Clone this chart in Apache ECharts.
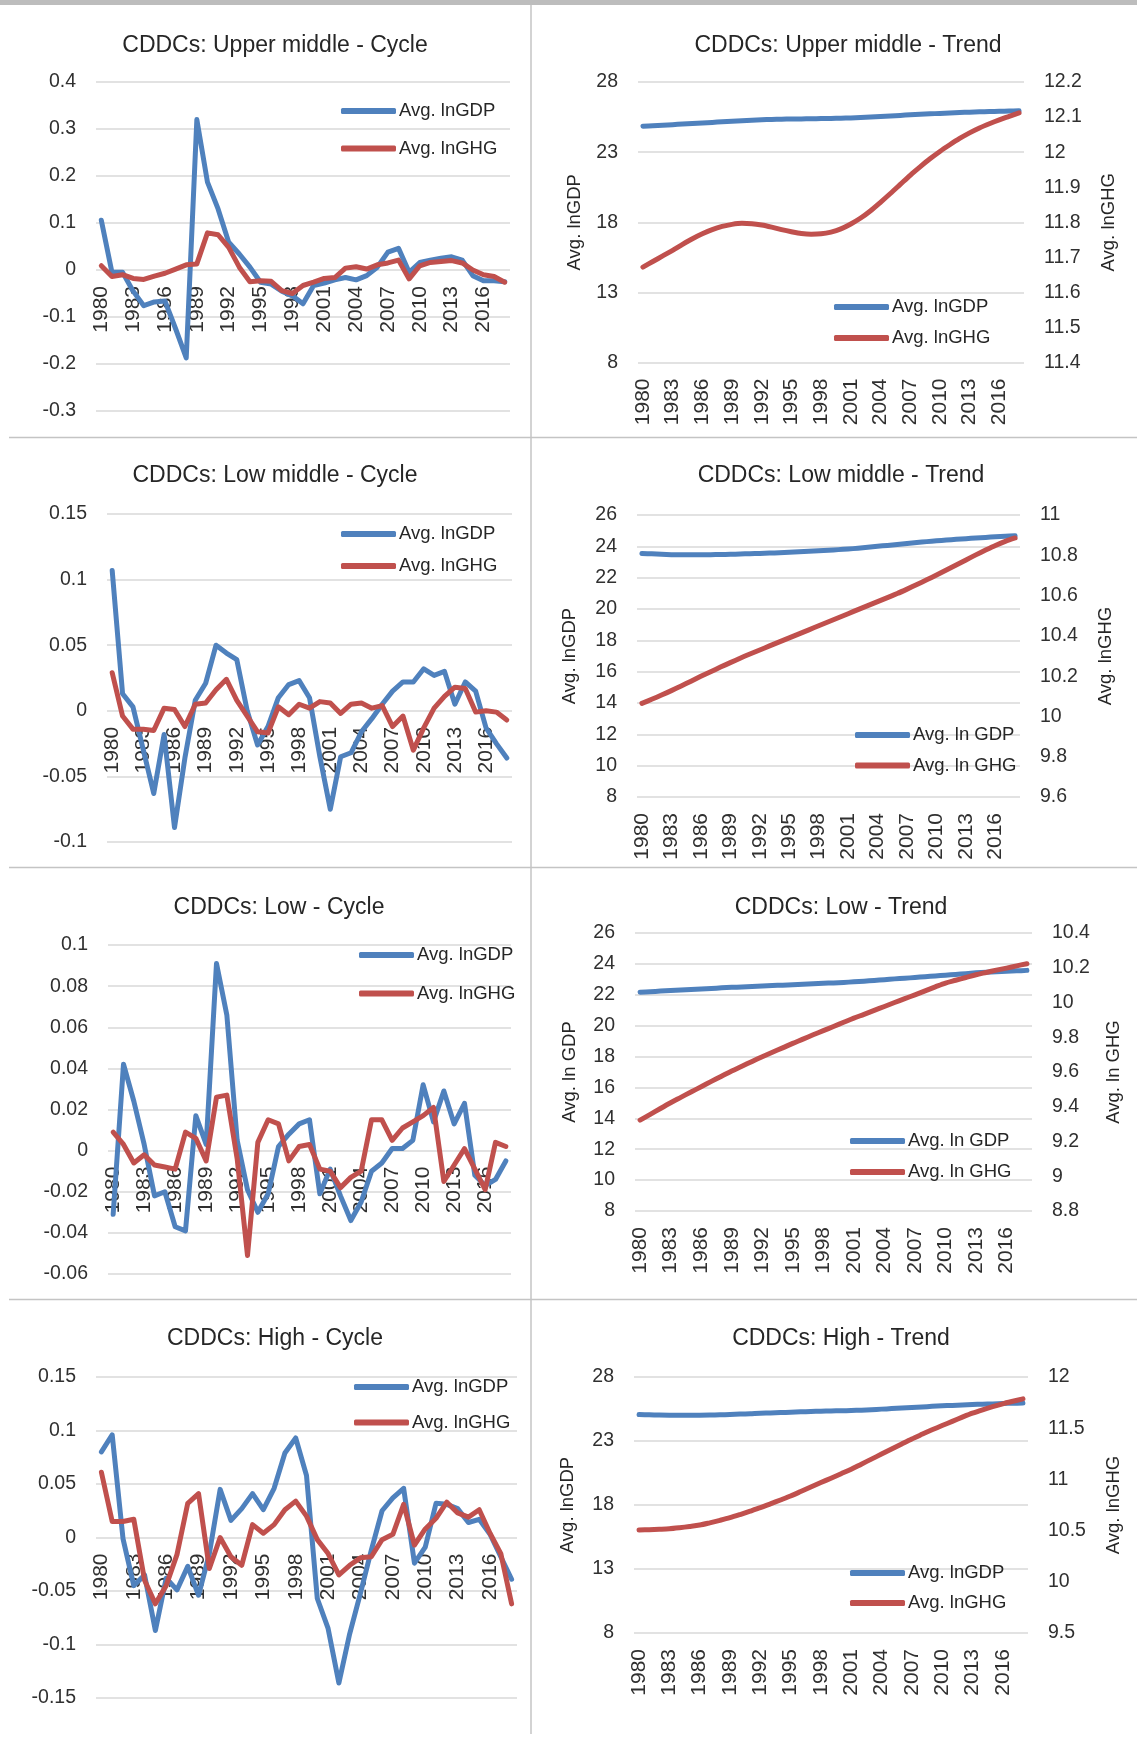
<!DOCTYPE html>
<html>
<head>
<meta charset="utf-8">
<script src="https://cdn.jsdelivr.net/npm/echarts@6/dist/echarts.min.js"></script>
<style>
html,body{margin:0;padding:0;background:#ffffff;}
#chart{width:1137px;height:1760px;}
</style>
</head>
<body>
<div id="chart"></div>
<script>
// ---------- DATA ----------
const years = ['1980','1981','1982','1983','1984','1985','1986','1987','1988','1989',
  '1990','1991','1992','1993','1994','1995','1996','1997','1998','1999',
  '2000','2001','2002','2003','2004','2005','2006','2007','2008','2009',
  '2010','2011','2012','2013','2014','2015','2016','2017','2018'];

// Upper middle - Cycle
const umCycleGDP = [0.106,-0.005,-0.005,-0.045,-0.076,-0.068,-0.066,-0.125,-0.187,0.32,
  0.187,0.13,0.059,0.034,0.006,-0.026,-0.03,-0.045,-0.055,-0.072,
  -0.033,-0.028,-0.021,-0.016,-0.021,-0.012,0.006,0.038,0.046,-0.005,
  0.016,0.021,0.025,0.028,0.021,-0.012,-0.023,-0.023,-0.025];
const umCycleGHG = [0.009,-0.014,-0.01,-0.018,-0.02,-0.013,-0.007,0.002,0.011,0.013,
  0.079,0.075,0.048,0.006,-0.025,-0.023,-0.024,-0.044,-0.05,-0.033,
  -0.026,-0.018,-0.016,0.004,0.007,0.002,0.011,0.015,0.021,-0.019,
  0.009,0.016,0.018,0.02,0.015,0.0,-0.01,-0.014,-0.026];

// Upper middle - Trend
const umTrendGDP = [24.85,24.88,24.92,24.96,25.0,25.04,25.08,25.12,25.16,25.2,
  25.24,25.28,25.31,25.33,25.35,25.36,25.37,25.38,25.39,25.4,
  25.42,25.44,25.47,25.5,25.54,25.58,25.62,25.66,25.7,25.73,
  25.76,25.79,25.82,25.85,25.87,25.89,25.91,25.93,25.95];
const umTrendGHG = [11.672,11.688,11.704,11.72,11.737,11.753,11.767,11.779,11.788,11.794,
  11.797,11.796,11.792,11.786,11.779,11.773,11.768,11.766,11.767,11.772,
  11.781,11.795,11.812,11.833,11.857,11.882,11.908,11.934,11.958,11.981,
  12.002,12.021,12.039,12.055,12.069,12.081,12.092,12.102,12.112];

// Low middle - Cycle
const lmCycleGDP = [0.107,0.013,0.003,-0.03,-0.063,-0.018,-0.089,-0.036,0.008,0.021,
  0.05,0.044,0.039,0.0,-0.026,-0.012,0.01,0.02,0.023,0.01,
  -0.035,-0.075,-0.035,-0.032,-0.016,-0.006,0.005,0.015,0.022,0.022,
  0.032,0.027,0.03,0.005,0.022,0.015,-0.013,-0.025,-0.036];
const lmCycleGHG = [0.029,-0.004,-0.014,-0.014,-0.015,0.002,0.001,-0.012,0.005,0.006,
  0.016,0.024,0.008,-0.004,-0.016,-0.017,0.003,-0.003,0.005,0.002,
  0.007,0.006,-0.002,0.005,0.006,0.002,0.004,-0.012,-0.004,-0.03,
  -0.013,0.002,0.011,0.018,0.017,-0.001,0.0,-0.001,-0.007];

// Low middle - Trend
const lmTrendGDP = [23.55,23.52,23.49,23.47,23.46,23.46,23.46,23.47,23.48,23.49,
  23.51,23.53,23.55,23.57,23.59,23.62,23.65,23.68,23.72,23.75,
  23.79,23.83,23.88,23.94,24.0,24.06,24.12,24.18,24.24,24.3,
  24.35,24.4,24.45,24.49,24.53,24.57,24.61,24.64,24.67];
const lmTrendGHG = [10.065,10.085,10.106,10.128,10.151,10.175,10.199,10.222,10.245,10.267,
  10.289,10.31,10.33,10.35,10.37,10.39,10.41,10.43,10.45,10.47,
  10.49,10.51,10.53,10.55,10.57,10.59,10.61,10.632,10.655,10.678,
  10.702,10.727,10.752,10.777,10.802,10.826,10.849,10.869,10.886];

// Low - Cycle
const lowCycleGDP = [-0.031,0.042,0.024,0.003,-0.022,-0.02,-0.037,-0.039,0.017,0.003,
  0.091,0.066,0.005,-0.019,-0.03,-0.021,0.002,0.008,0.013,0.015,
  -0.021,-0.009,-0.022,-0.034,-0.025,-0.01,-0.006,0.001,0.001,0.005,
  0.032,0.014,0.029,0.013,0.023,-0.012,-0.017,-0.014,-0.005];
const lowCycleGHG = [0.009,0.003,-0.006,-0.002,-0.007,-0.008,-0.009,0.009,0.006,-0.005,
  0.026,0.027,-0.004,-0.051,0.004,0.015,0.013,-0.005,0.002,0.003,
  -0.009,-0.01,-0.018,-0.013,-0.01,0.015,0.015,0.005,0.011,0.014,
  0.017,0.021,-0.015,-0.007,0.001,-0.009,-0.019,0.004,0.002];

// Low - Trend
const lowTrendGDP = [22.17,22.2,22.24,22.27,22.31,22.34,22.38,22.41,22.45,22.48,
  22.51,22.54,22.57,22.6,22.62,22.65,22.68,22.71,22.74,22.77,
  22.8,22.84,22.88,22.93,22.98,23.03,23.07,23.12,23.17,23.22,
  23.27,23.32,23.37,23.42,23.46,23.49,23.52,23.55,23.58];
const lowTrendGHG = [9.323,9.356,9.39,9.423,9.454,9.485,9.515,9.546,9.576,9.606,
  9.633,9.661,9.688,9.714,9.739,9.765,9.789,9.814,9.838,9.862,
  9.886,9.91,9.932,9.955,9.977,10.0,10.022,10.044,10.067,10.09,
  10.112,10.128,10.144,10.16,10.173,10.186,10.198,10.211,10.223];

// High - Cycle
const highCycleGDP = [0.08,0.096,-0.001,-0.045,-0.035,-0.087,-0.038,-0.049,-0.027,-0.054,
  -0.015,0.045,0.016,0.027,0.041,0.026,0.046,0.079,0.093,0.058,
  -0.057,-0.085,-0.136,-0.09,-0.052,-0.012,0.025,0.037,0.046,-0.024,
  -0.009,0.032,0.031,0.027,0.014,0.017,0.003,-0.018,-0.039];
const highCycleGHG = [0.061,0.015,0.015,0.017,-0.04,-0.062,-0.045,-0.016,0.032,0.041,
  -0.029,0.0,-0.018,-0.026,0.012,0.004,0.012,0.026,0.034,0.02,
  -0.002,-0.015,-0.035,-0.026,-0.019,-0.018,-0.002,0.003,0.031,-0.007,
  0.008,0.018,0.033,0.023,0.019,0.026,0.004,-0.015,-0.062];

// High - Trend
const highTrendGDP = [25.07,25.05,25.03,25.02,25.02,25.02,25.02,25.03,25.05,25.07,
  25.1,25.13,25.17,25.19,25.22,25.25,25.28,25.3,25.33,25.35,
  25.36,25.38,25.41,25.45,25.49,25.53,25.58,25.62,25.66,25.71,
  25.75,25.78,25.82,25.85,25.88,25.9,25.93,25.95,25.96];
const highTrendGHG = [10.505,10.509,10.513,10.518,10.528,10.54,10.554,10.576,10.6,10.626,
  10.657,10.69,10.724,10.761,10.799,10.838,10.881,10.925,10.969,11.012,
  11.056,11.1,11.149,11.198,11.247,11.296,11.346,11.395,11.44,11.484,
  11.526,11.567,11.608,11.647,11.68,11.71,11.738,11.763,11.787];

// Axis ranges (tick label ranges)
const umCycleTicks = {min:-0.3, max:0.4, interval:0.1};
const lmCycleTicks = {min:-0.1, max:0.15, interval:0.05};
const lowCycleTicks = {min:-0.06, max:0.1, interval:0.02};
const highCycleTicks = {min:-0.15, max:0.15, interval:0.05};
const umTrendLeft = {min:8, max:28, interval:5};
const umTrendRight = {min:11.4, max:12.2, interval:0.1};
const lmTrendLeft = {min:8, max:26, interval:2};
const lmTrendRight = {min:9.6, max:11, interval:0.2};
const lowTrendLeft = {min:8, max:26, interval:2};
const lowTrendRight = {min:8.8, max:10.4, interval:0.2};
const highTrendLeft = {min:8, max:28, interval:5};
const highTrendRight = {min:9.5, max:12, interval:0.5};

// ---------- STYLE / LAYOUT ----------
const FONT = "'Liberation Sans',Arial,sans-serif";
const TXT = '#262626';
const LBL = '#303030';
const BLUE = '#4F81BD';
const RED = '#C0504D';
const GRIDC = '#D9D9D9';
const TITLE_SIZE = 23;
const LEG_SIZE = 18.5;
const TICK_SIZE = 19.5;
const XLBL_SIZE = 21;

const panels = [
  {type:'cycle', title:'CDDCs: Upper middle - Cycle', tx:275, ty:46,
   grid:{left:96, top:82, width:414, height:329}, y:umCycleTicks,
   gdp:umCycleGDP, ghg:umCycleGHG, names:['Avg. lnGDP','Avg. lnGHG'],
   legend:{left:341, top:101.5, gap:18.5}},
  {type:'trend', title:'CDDCs: Upper middle - Trend', tx:848, ty:46,
   grid:{left:638, top:82, width:386, height:280.5}, yl:umTrendLeft, yr:umTrendRight,
   axisNames:['Avg. lnGDP','Avg. lnGHG'], nameGaps:[54,75],
   gdp:umTrendGDP, ghg:umTrendGHG, names:['Avg. lnGDP','Avg. lnGHG'],
   legend:{left:834, top:297.5, gap:12.1}},
  {type:'cycle', title:'CDDCs: Low middle - Cycle', tx:275, ty:476,
   grid:{left:107, top:514, width:405, height:328}, y:lmCycleTicks,
   gdp:lmCycleGDP, ghg:lmCycleGHG, names:['Avg. lnGDP','Avg. lnGHG'],
   legend:{left:341, top:524.5, gap:13}},
  {type:'trend', title:'CDDCs: Low middle - Trend', tx:841, ty:476,
   grid:{left:637, top:515, width:383, height:282}, yl:lmTrendLeft, yr:lmTrendRight,
   axisNames:['Avg. lnGDP','Avg. lnGHG'], nameGaps:[58,76],
   gdp:lmTrendGDP, ghg:lmTrendGHG, names:['Avg. ln GDP','Avg. ln GHG'],
   legend:{left:855, top:725.5, gap:11.5}},
  {type:'cycle', title:'CDDCs: Low - Cycle', tx:279, ty:908,
   grid:{left:108, top:945, width:403, height:329}, y:lowCycleTicks,
   gdp:lowCycleGDP, ghg:lowCycleGHG, names:['Avg. lnGDP','Avg. lnGHG'],
   legend:{left:359, top:945.5, gap:19.5}},
  {type:'trend', title:'CDDCs: Low - Trend', tx:841, ty:908,
   grid:{left:635, top:933, width:397, height:278}, yl:lowTrendLeft, yr:lowTrendRight,
   axisNames:['Avg. ln GDP','Avg. ln GHG'], nameGaps:[56,72],
   gdp:lowTrendGDP, ghg:lowTrendGHG, names:['Avg. ln GDP','Avg. ln GHG'],
   legend:{left:850, top:1131.5, gap:12.1}},
  {type:'cycle', title:'CDDCs: High - Cycle', tx:275, ty:1339,
   grid:{left:96, top:1377, width:421, height:321}, y:highCycleTicks,
   gdp:highCycleGDP, ghg:highCycleGHG, names:['Avg. lnGDP','Avg. lnGHG'],
   legend:{left:354, top:1377.5, gap:16.5}},
  {type:'trend', title:'CDDCs: High - Trend', tx:841, ty:1339,
   grid:{left:634, top:1377, width:394, height:256}, yl:highTrendLeft, yr:highTrendRight,
   axisNames:['Avg. lnGDP','Avg. lnGHG'], nameGaps:[57,76],
   gdp:highTrendGDP, ghg:highTrendGHG, names:['Avg. lnGDP','Avg. lnGHG'],
   legend:{left:850, top:1563.5, gap:11.1}}
];

const grid = [], xAxis = [], yAxis = [], series = [], title = [], legend = [];

function valueAxis(gi, r, extra) {
  return Object.assign({
    type:'value', gridIndex:gi, min:r.min, max:r.max, interval:r.interval,
    axisLine:{show:false}, axisTick:{show:false},
    axisLabel:{margin:20, fontFamily:FONT, fontSize:TICK_SIZE, color:LBL},
    splitLine:{show:true, lineStyle:{color:GRIDC, width:1.6}}
  }, extra || {});
}

function lineSeries(name, data, color, xi, yi, smooth) {
  return {
    type:'line', name:name, data:data, xAxisIndex:xi, yAxisIndex:yi,
    showSymbol:false, symbol:'none', smooth:smooth, animation:false,
    lineStyle:{color:color, width:5, cap:'round', join:'round'},
    itemStyle:{color:color}, z:3
  };
}

panels.forEach((p, i) => {
  const isCycle = p.type === 'cycle';
  grid.push({left:p.grid.left, top:p.grid.top, width:p.grid.width, height:p.grid.height});
  title.push({
    text:p.title, left:p.tx, top:p.ty, textAlign:'center', textVerticalAlign:'middle', padding:0,
    textStyle:{fontFamily:FONT, fontSize:TITLE_SIZE, fontWeight:'normal', color:TXT}
  });
  // category axis crosses the value axis at zero in the cycle panels (as in Excel)
  const zeroOffset = isCycle ? -((0 - p.y.min) / (p.y.max - p.y.min)) * p.grid.height : 0;
  xAxis.push({
    type:'category', gridIndex:i, data:years, boundaryGap:true, position:'bottom',
    offset:zeroOffset,
    axisLine:{show:false, onZero:false},
    axisTick:{show:false},
    axisLabel:{interval:2, rotate:90, margin:16, fontFamily:FONT, fontSize:XLBL_SIZE, color:LBL},
    splitLine:{show:false}
  });
  if (isCycle) {
    const yi = yAxis.length;
    yAxis.push(valueAxis(i, p.y));
    series.push(lineSeries(p.names[0], p.gdp, BLUE, i, yi, false));
    series.push(lineSeries(p.names[1], p.ghg, RED, i, yi, false));
  } else {
    const yl = yAxis.length;
    yAxis.push(valueAxis(i, p.yl, {
      position:'left', name:p.axisNames[0], nameLocation:'middle', nameGap:p.nameGaps[0], nameRotate:90,
      nameTextStyle:{fontFamily:FONT, fontSize:LEG_SIZE, color:TXT}
    }));
    const yr = yAxis.length;
    yAxis.push(valueAxis(i, p.yr, {
      position:'right', name:p.axisNames[1], nameLocation:'middle', nameGap:p.nameGaps[1], nameRotate:90,
      nameTextStyle:{fontFamily:FONT, fontSize:LEG_SIZE, color:TXT},
      splitLine:{show:false}
    }));
    series.push(lineSeries(p.names[0], p.gdp, BLUE, i, yl, 0.3));
    series.push(lineSeries(p.names[1], p.ghg, RED, i, yr, 0.3));
  }
  legend.push({
    orient:'vertical', left:p.legend.left, top:p.legend.top, padding:0,
    itemGap:p.legend.gap, itemWidth:55, itemHeight:6, icon:'roundRect',
    selectedMode:false,
    data:[{name:p.names[0], itemStyle:{color:BLUE}}, {name:p.names[1], itemStyle:{color:RED}}],
    textStyle:{fontFamily:FONT, fontSize:LEG_SIZE, color:TXT, padding:[0,0,0,-2]}
  });
});

const SEP = '#C4C4C4';
const graphic = [
  {type:'rect', shape:{x:0, y:0, width:1137, height:5}, style:{fill:'#BDBDBD'}, silent:true},
  {type:'line', shape:{x1:9, y1:437.5, x2:1137, y2:437.5}, style:{stroke:SEP, lineWidth:1.5}, silent:true},
  {type:'line', shape:{x1:9, y1:867.5, x2:1137, y2:867.5}, style:{stroke:SEP, lineWidth:1.5}, silent:true},
  {type:'line', shape:{x1:9, y1:1299.5, x2:1137, y2:1299.5}, style:{stroke:SEP, lineWidth:1.5}, silent:true},
  {type:'line', shape:{x1:531, y1:5, x2:531, y2:1734}, style:{stroke:SEP, lineWidth:1.5}, silent:true}
];

const chart = echarts.init(document.getElementById('chart'), null, {renderer:'canvas'});
chart.setOption({
  animation:false,
  backgroundColor:'#ffffff',
  title:title, legend:legend, grid:grid, xAxis:xAxis, yAxis:yAxis, series:series,
  graphic:graphic, tooltip:{show:false}
});
</script>
</body>
</html>
